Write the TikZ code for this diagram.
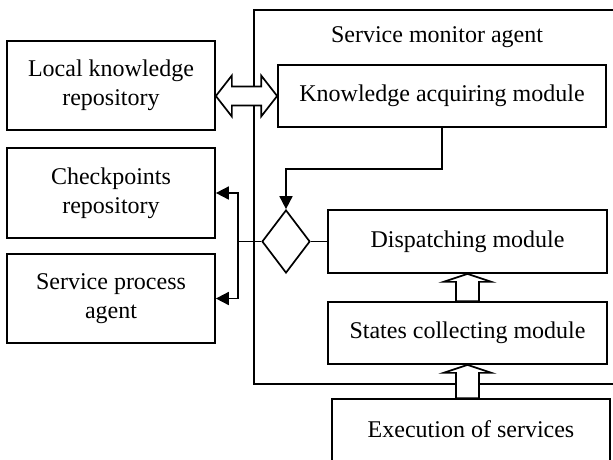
\documentclass[tikz,border=0pt]{standalone}
\usepackage{fontspec}
\setmainfont{Liberation Serif}
\usetikzlibrary{shapes.geometric,arrows.meta,calc}
\begin{document}
\begin{tikzpicture}[x=1pt,y=-1pt,
  every node/.style={font=\fontsize{24}{29}\selectfont},
  box/.style={draw,line width=1.7pt,rectangle,inner sep=0pt,align=center},
  ln/.style={line width=1.7pt},
  arr/.style={line width=1.7pt,-{Triangle[length=13pt,width=13pt]}},
  hollow/.style={draw,fill=white,line width=1.7pt,line join=miter}]
\useasboundingbox (0,0) rectangle (613,459);
\clip (0,0) rectangle (613,459);
% monitor agent frame
\node[box,minimum width=372pt,minimum height=374pt] (mon) at (440,197) {};
\node (montitle) at (437,37) {Service monitor agent};
% left boxes
\node[box,minimum width=208pt,minimum height=89pt] (lkr) at (111,85.5) {Local knowledge\\repository};
\node[box,minimum width=208pt,minimum height=90pt] (cpr) at (111,193) {Checkpoints\\repository};
\node[box,minimum width=208pt,minimum height=89pt] (spa) at (111,298.5) {Service process\\agent};
% modules
\node[box,minimum width=328pt,minimum height=62pt,fill=white] (kam) at (442,96) {\raisebox{5pt}{Knowledge acquiring module}};
\node[box,minimum width=279pt,minimum height=63pt] (dm) at (467.5,241.5) {\raisebox{5pt}{Dispatching module}};
\node[box,minimum width=279pt,minimum height=62pt] (scm) at (467.5,333) {\raisebox{6pt}{States collecting module}};
\node[box,minimum width=278pt,minimum height=63pt] (exe) at (471,430.5) {\raisebox{3pt}{Execution of services}};
% diamond
\node[draw,diamond,line width=1.7pt,inner sep=0pt,minimum width=48pt,minimum height=63pt] (dia) at (286,241.5) {};
% connectors
\coordinate (j) at (238,241.5);
\draw[ln] (dia.west) -- (j);
\draw[arr] (j) |- (cpr.east);
\draw[arr] (j) |- (spa.east);
\draw[ln] (dia.east) -- (dm.west);
\draw[arr] (kam.south) -- ++(0,41) -| (dia.north);
% double hollow arrow
\coordinate (L) at (lkr.east |- kam.west);
\coordinate (R) at (kam.west);
\draw[hollow] (L) -- ++(16,-20.5) -- ++(0,11) -- ($(R)+(-16,-9.5)$) -- ++(0,-11) -- (R)
  -- ++(-16,20.5) -- ++(0,-11) -- ($(L)+(16,9.5)$) -- ++(0,11) -- cycle;
% up hollow arrows
\draw[hollow] (dm.south) -- ++(24,8) -- ++(-12.5,0) -- ($(scm.north)+(11.5,0)$) -- ($(scm.north)+(-11.5,0)$)
  -- ($(dm.south)+(-11.5,8)$) -- ++(-12.5,0) -- cycle;
\draw[hollow] (scm.south) -- ++(24,8) -- ++(-12.5,0) -- ($(scm.south |- exe.north)+(11.5,0)$) -- ($(scm.south |- exe.north)+(-11.5,0)$)
  -- ($(scm.south)+(-11.5,8)$) -- ++(-12.5,0) -- cycle;
\end{tikzpicture}
\end{document}
